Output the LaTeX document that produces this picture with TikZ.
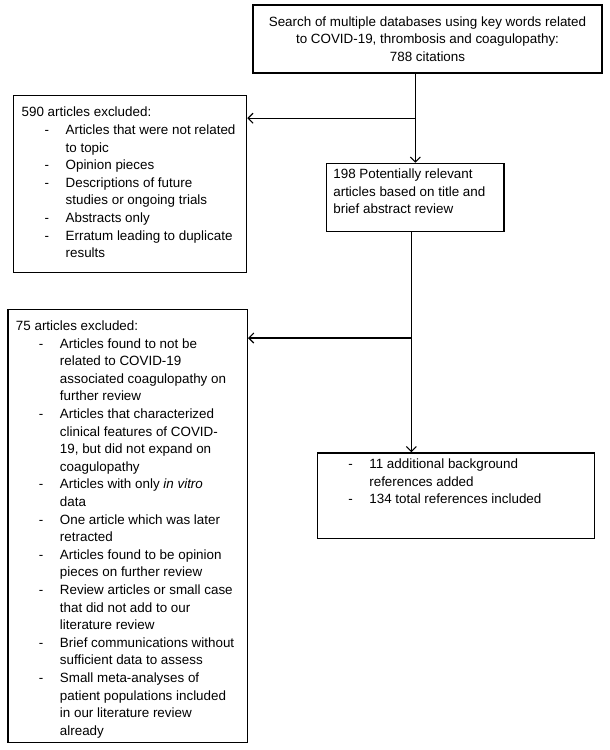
\documentclass[tikz,border=0pt]{standalone}
\usepackage{fontspec}
\setmainfont{Liberation Sans}
\usetikzlibrary{positioning,calc,arrows.meta}
\newcommand{\boxtext}[3]{\parbox[t][#2][t]{#1}{\strut\ignorespaces#3}}
\newcommand{\dashitem}[1]{\par\noindent\hangindent=44pt\hangafter=1\hspace*{23pt}\makebox[21pt][l]{-}\ignorespaces#1}
\begin{document}
\begin{tikzpicture}[x=1pt, y=-1pt, line width=1.3pt,
    >={Straight Barb[length=5pt,width=10pt,line width=1.1pt]},
    every node/.style={font=\fontsize{13.4}{17.6}\selectfont},
    flowbox/.style={draw, anchor=north west, inner xsep=8pt, inner ysep=4pt}]
  \useasboundingbox (0,0) rectangle (610,750);
  \node[draw, minimum width=349pt, minimum height=68pt, align=center] (search) at (427.5,39)
    {Search of multiple databases using key words related\\to COVID-19, thrombosis and coagulopathy:\\788 citations};
  \node[flowbox, inner ysep=9pt] (excl1) at (13,95) {\boxtext{217pt}{159pt}{590 articles excluded:
    \dashitem{Articles that were not related\\to topic}
    \dashitem{Opinion pieces}
    \dashitem{Descriptions of future\\studies or ongoing trials}
    \dashitem{Abstracts only}
    \dashitem{Erratum leading to duplicate\\results}}};
  \node[flowbox, inner xsep=6.7pt, inner ysep=3pt] (screen) at (326,162.7) {\boxtext{164pt}{62.3pt}{198 Potentially relevant\\articles based on title and\\brief abstract review}};
  \node[flowbox, inner ysep=8.5pt] (excl2) at (7.3,309) {\boxtext{223.4pt}{416pt}{75 articles excluded:
    \dashitem{Articles found to not be\\related to COVID-19\\associated coagulopathy on\\further review}
    \dashitem{Articles that characterized\\clinical features of COVID-\\19, but did not expand on\\coagulopathy}
    \dashitem{Articles with only \textit{in vitro}\\data}
    \dashitem{One article which was later\\retracted}
    \dashitem{Articles found to be opinion\\pieces on further review}
    \dashitem{Review articles or small case\\that did not add to our\\literature review}
    \dashitem{Brief communications without\\sufficient data to assess}
    \dashitem{Small meta-analyses of\\patient populations included\\in our literature review\\already}}};
  \node[flowbox, inner ysep=3.5pt] (incl) at (316.7,452.3) {\parbox[t][78.7pt][t]{261.3pt}{%
    \dashitem{\strut 11 additional background\\references added}
    \dashitem{134 total references included}}};
  % arrows
  \coordinate (top1) at (search.south -| screen.north);
  \coordinate (split1) at ($(top1)!0.5!(screen.north)$);
  \draw [->] (top1) -- (screen.north);
  \draw [->] (split1) -- (split1 -| excl1.east);
  \coordinate (drop) at ([xshift=-4pt]screen.south);
  \coordinate (split2) at (drop |- 0,338);
  \draw [->] (drop) -- (drop |- incl.north);
  \draw [->] (split2) -- (split2 -| excl2.east);
\end{tikzpicture}
\end{document}
